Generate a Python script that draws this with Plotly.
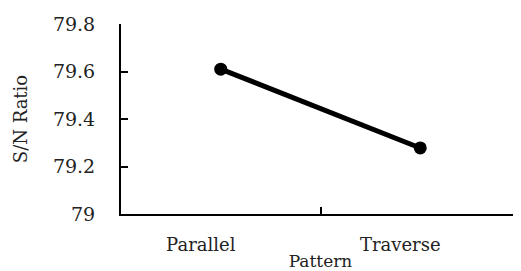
import plotly.graph_objects as go

categories = ["Parallel", "Traverse"]
sn_ratio = [79.61, 79.278]
y_ticks = [79, 79.2, 79.4, 79.6, 79.8]
y_tick_labels = ["79", "79.2", "79.4", "79.6", "79.8"]

fig = go.Figure()
fig.add_trace(go.Scatter(
    x=categories, y=sn_ratio, mode="lines+markers",
    line=dict(color="black", width=5),
    marker=dict(color="black", size=13),
    showlegend=False,
))

font = "DejaVu Serif"
fig.update_layout(
    width=513, height=263,
    margin=dict(l=113, r=1, t=16, b=57),
    paper_bgcolor="white", plot_bgcolor="white",
    font=dict(family=font, color="#222"),
    xaxis=dict(
        type="category", range=[-0.5, 1.5], automargin=False,
        showline=True, linecolor="black", linewidth=2,
        ticks="inside", ticklen=7, tickwidth=2, tickcolor="black",
        tickson="boundaries", showgrid=False,
        tickfont=dict(size=18, family=font, color="#222"),
        ticklabelstandoff=13, ticklabelshift=-20,
        title=dict(text="Pattern", font=dict(size=17, family=font, color="#222"), standoff=3),
    ),
    yaxis=dict(
        range=[79, 79.8], tickvals=y_ticks, ticktext=y_tick_labels, automargin=False,
        showline=True, linecolor="black", linewidth=2,
        ticks="inside", ticklen=7, tickwidth=2, tickcolor="black",
        showgrid=False, zeroline=False,
        tickfont=dict(size=19, family=font, color="#222"),
        ticklabelstandoff=20,
        title=dict(text="S/N Ratio", font=dict(size=18, family=font, color="#222"), standoff=21),
    ),
)

fig.write_html("out.html")
